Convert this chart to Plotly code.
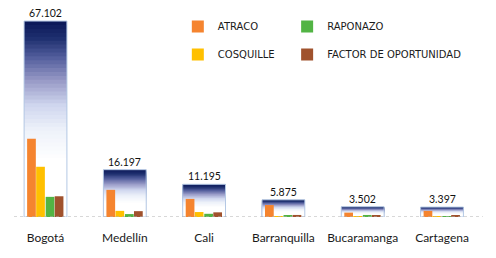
import plotly.graph_objects as go

cities = ["Bogotá", "Medellín", "Cali", "Barranquilla", "Bucaramanga", "Cartagena"]
totals = [67102, 16197, 11195, 5875, 3502, 3397]
atraco = [26800, 9300, 6200, 4100, 1500, 2100]
cosquille = [17200, 2100, 1700, 300, 300, 300]
raponazo = [6900, 1000, 1100, 400, 700, 300]
factor = [7100, 2000, 1600, 700, 550, 600]

series_names = ["ATRACO", "COSQUILLE", "RAPONAZO", "FACTOR DE OPORTUNIDAD"]
series_vals = [atraco, cosquille, raponazo, factor]
series_colors = ["#f5842f", "#ffc000", "#52b444", "#a0522d"]
series_offsets = [-0.232, -0.118, 0.002, 0.116]
series_legend = ["legend", "legend", "legend2", "legend2"]

# gradient stops (fraction from top of bar -> rgb)
stops = [(0.0, (12, 26, 90)), (0.08, (31, 48, 112)), (0.18, (85, 96, 158)),
         (0.30, (154, 156, 200)), (0.42, (207, 214, 238)), (0.55, (238, 242, 250)),
         (0.70, (255, 255, 255))]


def grad(t):
    for (t0, c0), (t1, c1) in zip(stops, stops[1:]):
        if t <= t1:
            f = (t - t0) / (t1 - t0) if t1 > t0 else 0
            return "rgb(%d,%d,%d)" % tuple(round(a + (b - a) * f) for a, b in zip(c0, c1))
    return "rgb(255,255,255)"


def fmt(v):
    return f"{v:,}".replace(",", ".")


BW = 0.54
fig = go.Figure()
N = 50
for k in range(N):
    t = k / N
    if t > 0.72:
        break
    fig.add_trace(go.Bar(
        x=cities, y=[v * (1 - t) for v in totals], width=BW, offset=-BW / 2,
        marker=dict(color=grad(t), line=dict(width=0)), showlegend=False,
        hoverinfo="skip"))

# outline
fig.add_trace(go.Bar(
    x=cities, y=totals, width=BW, offset=-BW / 2,
    marker=dict(color="rgba(0,0,0,0)", line=dict(color="#b4c8e4", width=1)),
    showlegend=False, hoverinfo="skip"))

for name, vals, col, off, lg in zip(series_names, series_vals, series_colors,
                                     series_offsets, series_legend):
    fig.add_trace(go.Bar(
        x=cities, y=vals, name=name, width=0.11, offset=off,
        marker=dict(color=col, line=dict(width=0)),
        legend=lg, legendgroup=name))

for c, v in zip(cities, totals):
    fig.add_annotation(x=c, y=v, text=fmt(v), showarrow=False, yanchor="bottom",
                       yshift=1, borderpad=0,
                       font=dict(family="Lato", size=10.5, color="#111111"))

fig.add_shape(type="line", xref="paper", yref="y", x0=0.0123, x1=0.973, y0=0, y1=0,
              line=dict(color="#b0b0b0", width=1, dash="dot"))

legend_common = dict(orientation="v", xanchor="left", yanchor="top",
                     font=dict(family="DejaVu Sans", size=10, color="#1a1a1a"),
                     tracegroupgap=9, bgcolor="rgba(0,0,0,0)")
fig.update_layout(
    width=488, height=250,
    margin=dict(l=0, r=0, t=4, b=41, autoexpand=False),
    barmode="overlay",
    paper_bgcolor="white", plot_bgcolor="white",
    showlegend=True,
    legend=dict(x=0.348, y=1.0, **legend_common),
    legend2=dict(x=0.572, y=1.0, **legend_common),
    xaxis=dict(range=[-0.473, 5.681], showgrid=False, showline=False, zeroline=False,
               automargin=False,
               ticks="outside", ticklen=10, tickcolor="rgba(0,0,0,0)",
               tickfont=dict(family="Lato", size=12, color="#1a1a1a")),
    yaxis=dict(range=[0, 70200], visible=False, showgrid=False, zeroline=False,
               automargin=False),
)

fig.write_html("out.html")
